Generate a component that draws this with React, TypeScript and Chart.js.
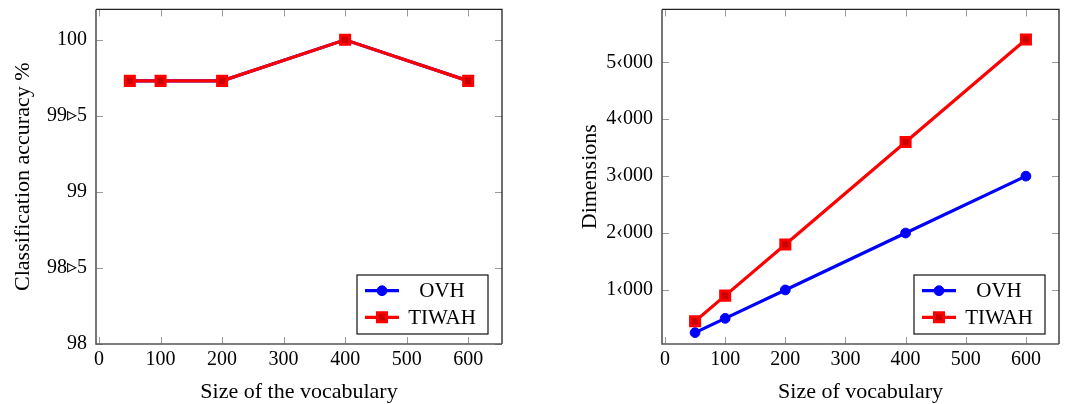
import React, { useEffect, useRef } from "react";
import { Chart, registerables } from "chart.js";

Chart.register(...registerables);

// ---------- data ----------
const vocabSizes = [50, 100, 200, 400, 600];
const accuracyOVH = [99.73, 99.73, 99.73, 100, 99.73];
const accuracyTIWAH = [99.73, 99.73, 99.73, 100, 99.73];
const dimensionsOVH = [250, 500, 1000, 2000, 3000];
const dimensionsTIWAH = [450, 900, 1800, 3600, 5400];

const xTickValues = [0, 100, 200, 300, 400, 500, 600];
const accTickValues = [98, 98.5, 99, 99.5, 100];
const accTickLabels = ["98", "98\u25B95", "99", "99\u25B95", "100"];
const dimTickValues = [1000, 2000, 3000, 4000, 5000];
const dimTickLabels = ["1\u2039000", "2\u2039000", "3\u2039000", "4\u2039000", "5\u2039000"];

const seriesNames = ["OVH", "TIWAH"];

// ---------- style ----------
const FONT = "'Liberation Serif', 'Times New Roman', serif";
const BLUE = "#0000ff";
const RED = "#ff0000";

const pgfPlugin = {
  id: "pgfFrame",
  beforeDatasetsDraw(chart: any) {
    const { ctx, chartArea: a } = chart;
    const xs = chart.scales.x;
    const ys = chart.scales.y;
    const len = 7;
    ctx.save();
    ctx.strokeStyle = "#9a9a9a";
    ctx.lineWidth = 1;
    ctx.beginPath();
    xs.ticks.forEach((t: any) => {
      const px = Math.round(xs.getPixelForValue(t.value)) + 0.5;
      ctx.moveTo(px, a.bottom);
      ctx.lineTo(px, a.bottom - len);
      ctx.moveTo(px, a.top);
      ctx.lineTo(px, a.top + len);
    });
    ys.ticks.forEach((t: any) => {
      const py = Math.round(ys.getPixelForValue(t.value)) + 0.5;
      ctx.moveTo(a.left, py);
      ctx.lineTo(a.left + len, py);
      ctx.moveTo(a.right, py);
      ctx.lineTo(a.right - len, py);
    });
    ctx.stroke();
    ctx.restore();
  },
  afterDatasetsDraw(chart: any) {
    const { ctx, chartArea: a } = chart;
    ctx.save();
    // frame
    ctx.strokeStyle = "#222";
    ctx.lineWidth = 1.3;
    ctx.beginPath();
    ctx.moveTo(a.left, a.top);
    ctx.lineTo(a.right, a.top);
    ctx.lineTo(a.right, a.bottom);
    ctx.stroke();
    ctx.strokeStyle = "#555";
    ctx.lineWidth = 1.6;
    ctx.beginPath();
    ctx.moveTo(a.left, a.top);
    ctx.lineTo(a.left, a.bottom);
    ctx.lineTo(a.right, a.bottom);
    ctx.stroke();

    // legend
    const w = 131;
    const h = 59;
    const bx = a.right - 14 - w;
    const by = a.bottom - 10 - h;
    ctx.fillStyle = "#fff";
    ctx.fillRect(bx, by, w, h);
    ctx.strokeStyle = "#111";
    ctx.lineWidth = 1.2;
    ctx.strokeRect(bx, by, w, h);
    const ds = chart.data.datasets;
    ds.forEach((d: any, i: number) => {
      const cy = by + 15.7 + i * 26.6;
      ctx.strokeStyle = d.borderColor;
      ctx.lineWidth = d.borderWidth;
      ctx.beginPath();
      ctx.moveTo(bx + 8, cy);
      ctx.lineTo(bx + 42, cy);
      ctx.stroke();
      const mx = bx + 25;
      if (d.pointStyle === "rect") {
        const s = d.pointRadius * Math.SQRT1_2;
        ctx.fillStyle = d.pointBackgroundColor;
        ctx.strokeStyle = d.pointBorderColor;
        ctx.lineWidth = d.pointBorderWidth;
        ctx.beginPath();
        ctx.rect(mx - s, cy - s, 2 * s, 2 * s);
        ctx.fill();
        ctx.stroke();
      } else {
        ctx.fillStyle = d.pointBackgroundColor;
        ctx.strokeStyle = d.pointBorderColor;
        ctx.lineWidth = d.pointBorderWidth;
        ctx.beginPath();
        ctx.arc(mx, cy, d.pointRadius, 0, Math.PI * 2);
        ctx.fill();
        ctx.stroke();
      }
      ctx.fillStyle = "#000";
      ctx.font = `21px ${FONT}`;
      ctx.textAlign = "center";
      ctx.textBaseline = "middle";
      ctx.fillText(d.label, bx + 85, cy + 1);
    });
    ctx.restore();
  },
};

function makeDatasets(ovh: number[], tiwah: number[]) {
  return [
    {
      label: seriesNames[0],
      data: vocabSizes.map((x, i) => ({ x, y: ovh[i] })),
      borderColor: BLUE,
      backgroundColor: BLUE,
      borderWidth: 3.2,
      pointStyle: "circle",
      pointRadius: 4.9,
      pointBorderWidth: 1,
      pointBackgroundColor: BLUE,
      pointBorderColor: BLUE,
      order: 1,
    },
    {
      label: seriesNames[1],
      data: vocabSizes.map((x, i) => ({ x, y: tiwah[i] })),
      borderColor: RED,
      backgroundColor: RED,
      borderWidth: 3.2,
      pointStyle: "rect",
      pointRadius: 6.4,
      pointBorderWidth: 3,
      pointBackgroundColor: "#c80000",
      pointBorderColor: RED,
      order: 0,
    },
  ];
}

function makeConfig(opts: {
  ovh: number[];
  tiwah: number[];
  xTitle: string;
  yTitle: string;
  yMin: number;
  yMax: number;
  yTicks: number[];
  yLabels: string[];
  yAxisWidth: number;
  yTitlePad: number;
  rightPad: number;
}): any {
  return {
    type: "line",
    data: { datasets: makeDatasets(opts.ovh, opts.tiwah) },
    plugins: [pgfPlugin],
    options: {
      animation: false,
      responsive: false,
      devicePixelRatio: 1,
      layout: { padding: { top: 8, right: opts.rightPad, left: 0, bottom: 0 } },
      plugins: { legend: { display: false }, tooltip: { enabled: false } },
      elements: { line: { tension: 0 } },
      scales: {
        x: {
          type: "linear",
          min: -5,
          max: 655,
          afterBuildTicks: (s: any) => {
            s.ticks = xTickValues.map((v) => ({ value: v }));
          },
          afterFit: (s: any) => {
            s.height = 60;
            s.paddingLeft = 0;
            s.paddingRight = 0;
          },
          grid: { display: false, drawTicks: false },
          border: { display: false },
          ticks: {
            autoSkip: false,
            maxRotation: 0,
            padding: 6,
            color: "#000",
            font: { family: FONT, size: 20, lineHeight: 1 },
            callback: (v: any) => String(v),
          },
          title: {
            display: true,
            text: opts.xTitle,
            color: "#000",
            padding: { top: 0, bottom: 1 },
            font: { family: FONT, size: 22, lineHeight: 1 },
          },
        },
        y: {
          type: "linear",
          min: opts.yMin,
          max: opts.yMax,
          afterBuildTicks: (s: any) => {
            s.ticks = opts.yTicks.map((v) => ({ value: v }));
          },
          afterFit: (s: any) => {
            s.width = opts.yAxisWidth;
            s.paddingTop = 0;
            s.paddingBottom = 0;
          },
          grid: { display: false, drawTicks: false },
          border: { display: false },
          ticks: {
            autoSkip: false,
            padding: 9,
            color: "#000",
            font: { family: FONT, size: 20, lineHeight: 1 },
            callback: (v: any) => {
              const i = opts.yTicks.indexOf(v);
              return i >= 0 ? opts.yLabels[i] : "";
            },
          },
          title: {
            display: true,
            text: opts.yTitle,
            color: "#000",
            padding: { top: opts.yTitlePad, bottom: 0 },
            font: { family: FONT, size: 22, lineHeight: 1 },
          },
        },
      },
    },
  };
}

function ChartCanvas({ config, left, width }: { config: any; left: number; width: number }) {
  const ref = useRef<HTMLCanvasElement>(null);
  useEffect(() => {
    const chart = new Chart(ref.current as HTMLCanvasElement, config);
    return () => chart.destroy();
  }, []);
  return (
    <canvas
      ref={ref}
      width={width}
      height={404}
      style={{ position: "absolute", left, top: 0, width, height: 404 }}
    />
  );
}

export default function App() {
  const leftConfig = makeConfig({
    ovh: accuracyOVH,
    tiwah: accuracyTIWAH,
    xTitle: "Size of the vocabulary",
    yTitle: "Classification accuracy %",
    yMin: 98,
    yMax: 100.2,
    yTicks: accTickValues,
    yLabels: accTickLabels,
    yAxisWidth: 96,
    yTitlePad: 12,
    rightPad: 18,
  });
  const rightConfig = makeConfig({
    ovh: dimensionsOVH,
    tiwah: dimensionsTIWAH,
    xTitle: "Size of vocabulary",
    yTitle: "Dimensions",
    yMin: 50,
    yMax: 5930,
    yTicks: dimTickValues,
    yLabels: dimTickLabels,
    yAxisWidth: 122,
    yTitlePad: 39,
    rightPad: 14,
  });
  return (
    <div
      style={{
        position: "absolute",
        left: 0,
        top: 0,
        width: 1073,
        height: 404,
        background: "#fff",
        overflow: "hidden",
      }}
    >
      <ChartCanvas config={leftConfig} left={0} width={520} />
      <ChartCanvas config={rightConfig} left={540} width={533} />
    </div>
  );
}
